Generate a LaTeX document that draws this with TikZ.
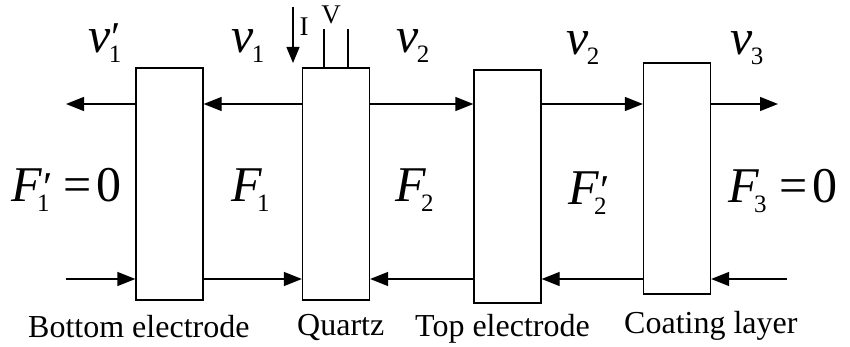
\documentclass[tikz,border=0pt]{standalone}
\usepackage{fontspec}
\setmainfont{Liberation Serif}
\usepackage{graphicx}
\usetikzlibrary{arrows.meta}
\newcommand{\sbs}[1]{\raisebox{-0.2em}{\scalebox{0.5}{\upshape #1}}}
\newcommand{\prm}{\raisebox{0.02em}{\scalebox{0.85}{′}}}
\newcommand{\symA}[3]{\textit{#1}\hspace{#3}\sbs{#2}}
\newcommand{\symP}[3]{\textit{#1}\rlap{\hspace{#3}\sbs{#2}}\hspace{0.02em}\prm\hspace{0.1em}}
\begin{document}
\begin{tikzpicture}[x=1pt,y=-1pt,
  layer/.style={draw,line width=1.3pt,minimum width=67pt,inner sep=0pt},
  conn/.style={line width=1.3pt,-{Triangle[length=18pt,width=14pt]}},
  wire/.style={line width=1.3pt},
  big/.style={font=\fontsize{50}{50}\selectfont,inner sep=0pt,anchor=base west},
  captext/.style={font=\fontsize{32}{32}\selectfont,inner sep=0pt,anchor=base west},
  small/.style={font=\fontsize{27}{27}\selectfont,inner sep=0pt}]
\useasboundingbox (0,0) rectangle (850,347);
% layers
\node[layer,minimum height=232pt] (B1) at (169.5,184) {};
\node[layer,minimum height=232pt] (B2) at (336,184) {};
\node[layer,minimum height=233pt] (B3) at (507.5,186.5) {};
\node[layer,minimum height=231pt] (B4) at (677,178.5) {};
% reference levels
\coordinate (T) at (0,104);
\coordinate (L) at (0,279);
\coordinate (TL) at (66,104);
\coordinate (TR) at (778,104);
\coordinate (LL) at (66,279);
\coordinate (LR) at (787,279);
% top arrows
\draw[conn] (B1.west |- T) -- (TL);
\draw[conn] (B2.west |- T) -- (B1.east |- T);
\draw[conn] (B2.east |- T) -- (B3.west |- T);
\draw[conn] (B3.east |- T) -- (B4.west |- T);
\draw[conn] (B4.east |- T) -- (TR);
% bottom arrows
\draw[conn] (LL) -- (B1.west |- L);
\draw[conn] (B1.east |- L) -- (B2.west |- L);
\draw[conn] (B3.west |- L) -- (B2.east |- L);
\draw[conn] (B4.west |- L) -- (B3.east |- L);
\draw[conn] (LR) -- (B4.east |- L);
% current and voltage
\coordinate (I0) at (293,7);
\coordinate (I1) at (293,63);
\draw[line width=1.3pt,-{Triangle[length=16pt,width=13pt]}] (I0) -- (I1);
\node[small] (Ilab) at (304,27) {I};
\coordinate (V1) at (324,29);
\coordinate (V2) at (348,29);
\draw[wire] (V1) -- (V1 |- B2.north);
\draw[wire] (V2) -- (V2 |- B2.north);
\node[small] (Vlab) at (331,15) {V};
% velocity labels
\node[big] (v1p) at (88,53) {\symP{v}{1}{-0.03em}};
\node[big] (v1) at (231,53) {\symA{v}{1}{-0.03em}};
\node[big] (v2a) at (396,53) {\symA{v}{2}{-0.03em}};
\node[big] (v2b) at (566,55) {\symA{v}{2}{-0.03em}};
\node[big] (v3) at (730,55) {\symA{v}{3}{-0.03em}};
% force labels
\node[big] (F1p) at (11,202) {\symP{F}{1}{-0.1em}\hspace{0.12em}=\hspace{0.1em}0};
\node[big] (F1) at (231,202) {\symA{F}{1}{-0.1em}};
\node[big] (F2) at (395,202) {\symA{F}{2}{-0.1em}};
\node[big] (F2p) at (568,205) {\symP{F}{2}{-0.1em}};
\node[big] (F3) at (728,203) {\symA{F}{3}{-0.1em}\hspace{0.25em}=\hspace{0.1em}0};
% layer names
\node[captext] (n1) at (28,337) {Bottom electrode};
\node[captext] (n2) at (297,335) {Quartz};
\node[captext] (n3) at (415,336) {Top electrode};
\node[captext] (n4) at (624,333) {Coating layer};
\end{tikzpicture}
\end{document}
